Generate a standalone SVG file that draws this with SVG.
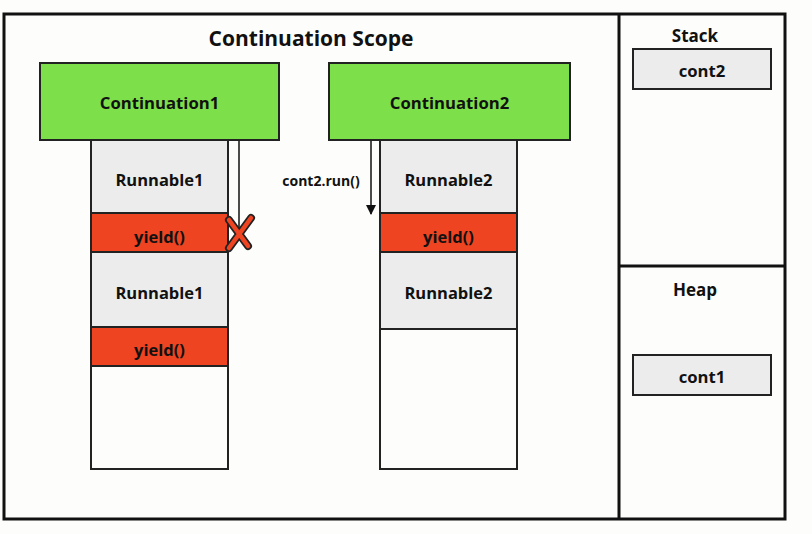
<svg xmlns="http://www.w3.org/2000/svg" width="812" height="534" viewBox="0 0 812 534">
<defs>
<style>
text{font-family:"Open Sans","Noto Sans","Liberation Sans",sans-serif;font-weight:bold;fill:#111;text-anchor:middle;dominant-baseline:central}
.frame{fill:none;stroke:#111;stroke-width:3}
.cont{fill:#7ddf4a;stroke:#222;stroke-width:2}
.run{fill:#ececec;stroke:#222;stroke-width:2}
.yld{fill:#ee4422;stroke:#222;stroke-width:2}
.empty{fill:#fdfefb;stroke:#222;stroke-width:2}
.mem{fill:#ececec;stroke:#222;stroke-width:2}
.t16{font-size:16.7px}
.t15{font-size:16.5px}
.line{stroke:#111;stroke-width:1.5;fill:none}
</style>
<marker id="ah" viewBox="0 0 10 10" refX="9" refY="5" markerWidth="10" markerHeight="10" orient="auto" markerUnits="userSpaceOnUse">
<path d="M0,0 L10,5 L0,10 z" fill="#111"/>
</marker>
</defs>
<rect width="812" height="534" fill="#fdfefb"/>
<g id="frame">
<rect class="frame" x="4" y="14" width="781" height="505"/>
<line x1="619" y1="14" x2="619" y2="519" stroke="#111" stroke-width="3"/>
<line x1="619" y1="266" x2="785" y2="266" stroke="#111" stroke-width="3"/>
<text x="311" y="38" style="font-size:21px">Continuation Scope</text>
<text x="695" y="35" style="font-size:17px">Stack</text>
<text x="695" y="289" style="font-size:17px">Heap</text>
</g>
<g id="column1">
<rect class="run" x="91" y="140" width="137" height="73"/>
<text x="159.5" y="179" class="t15">Runnable1</text>
<rect class="yld" x="91" y="213" width="137" height="39"/>
<text x="159.5" y="236" class="t15">yield()</text>
<rect class="run" x="91" y="252" width="137" height="75"/>
<text x="159.5" y="292" class="t15">Runnable1</text>
<rect class="yld" x="91" y="327" width="137" height="39"/>
<text x="159.5" y="349" class="t15">yield()</text>
<rect class="empty" x="91" y="366" width="137" height="103"/>
</g>
<g id="column2">
<rect class="run" x="380" y="140" width="137" height="73"/>
<text x="448.5" y="179" class="t15">Runnable2</text>
<rect class="yld" x="380" y="213" width="137" height="39"/>
<text x="448.5" y="236" class="t15">yield()</text>
<rect class="run" x="380" y="252" width="137" height="77"/>
<text x="448.5" y="292" class="t15">Runnable2</text>
<rect class="empty" x="380" y="329" width="137" height="140"/>
</g>
<g id="continuation1">
<rect class="cont" x="40" y="63" width="239" height="77"/>
<text x="159.5" y="102" class="t16">Continuation1</text>
</g>
<g id="continuation2">
<rect class="cont" x="329" y="63" width="241" height="77"/>
<text x="449.5" y="102" class="t16">Continuation2</text>
</g>
<g id="stack-cont2">
<rect class="mem" x="633" y="49" width="138" height="40"/>
<text x="702" y="70" class="t16">cont2</text>
</g>
<g id="heap-cont1">
<rect class="mem" x="633" y="355" width="138" height="40"/>
<text x="702" y="376" class="t16">cont1</text>
</g>
<g id="connectors">
<line class="line" x1="239" y1="141" x2="239" y2="232"/>
<line class="line" x1="371" y1="141" x2="371" y2="214" marker-end="url(#ah)"/>
<text x="321" y="180" style="font-size:14px">cont2.run()</text>
</g>
<g id="cancel-mark">
<path d="M229,248 L251,218 M229,220 L248,246" stroke="#222" stroke-width="8" stroke-linecap="round" fill="none"/>
<path d="M229,248 L251,218 M229,220 L248,246" stroke="#ee4422" stroke-width="4.5" stroke-linecap="round" fill="none"/>
</g>
</svg>
